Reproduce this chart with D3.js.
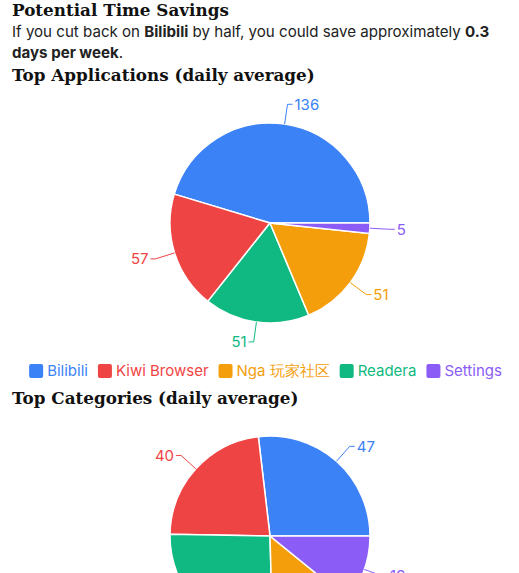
<!DOCTYPE html>
<html><head><meta charset="utf-8">
<script src="https://cdn.jsdelivr.net/npm/d3@7"></script>
<style>
body{margin:0;background:#fff;}
text{font-family:Inter,"Noto Sans",sans-serif;}
.ttl{font-family:"DejaVu Serif",serif;font-weight:bold;font-size:16.8px;fill:#111;}
</style></head>
<body><svg id="c" width="519" height="573"></svg>
<script>
const apps = ["Bilibili", "Kiwi Browser", "Nga 玩家社区", "Readera", "Settings"];
const appValues = [136, 57, 51, 51, 5];
const cats = ["Entertainment", "Browsing", "Reading", "Games", "Utilities"];
const catValues = [47, 40, 45, 24, 19];
// slice order in picture: blue, red, green, orange, purple (counterclockwise)
const appColors = ["#3b82f6", "#ef4444", "#f59e0b", "#10b981", "#8b5cf6"];
const sliceOrderApps = [0, 1, 3, 2, 4];
const catColors = ["#3b82f6", "#ef4444", "#10b981", "#f59e0b", "#8b5cf6"];

const svg = d3.select("#c");

svg.append("text").attr("class", "ttl").attr("x", 12).attr("y", 16).text("Potential Time Savings");
const p = svg.append("text").attr("x", 12).attr("y", 37).attr("font-size", 15.1).attr("fill", "#222");
p.append("tspan").text("If you cut back on ");
p.append("tspan").attr("font-weight", "bold").text("Bilibili");
p.append("tspan").text(" by half, you could save approximately ");
p.append("tspan").attr("font-weight", "bold").text("0.3");
svg.append("text").attr("x", 12).attr("y", 58).attr("font-size", 15.1).attr("fill", "#222")
  .call(t => { t.append("tspan").attr("font-weight", "bold").text("days per week"); t.append("tspan").text("."); });
svg.append("text").attr("class", "ttl").attr("x", 12).attr("y", 81).text("Top Applications (daily average)");
svg.append("text").attr("class", "ttl").attr("x", 12).attr("y", 404).text("Top Categories (daily average)");

function drawPie(cx, cy, r, names, values, cols) {
  const data = names.map((n, i) => ({ n, v: values[i], c: cols[i] }));
  const pie = d3.pie().value(d => d.v).sort(null)
    .startAngle(Math.PI / 2).endAngle(Math.PI / 2 - 2 * Math.PI);
  const arcs = pie(data);
  const arc = d3.arc().innerRadius(0).outerRadius(r);
  const g = svg.append("g").attr("transform", `translate(${cx},${cy})`);
  g.selectAll("path").data(arcs).join("path")
    .attr("d", arc).attr("fill", d => d.data.c)
    .attr("stroke", "#fff").attr("stroke-width", 1.5);
  arcs.forEach(a => {
    const m = (a.startAngle + a.endAngle) / 2;
    const sx = Math.sin(m), sy = -Math.cos(m);
    const p0 = [sx * r, sy * r], p1 = [sx * (r + 20), sy * (r + 20)];
    const dir = sx >= 0 ? 1 : -1;
    const p2 = [p1[0] + dir * 5, p1[1]];
    g.append("polyline").attr("points", [p0, p1, p2].map(q => q.join(",")).join(" "))
      .attr("fill", "none").attr("stroke", a.data.c).attr("stroke-width", 1);
    g.append("text").attr("x", p2[0] + dir * 2).attr("y", p2[1]).attr("dy", "0.35em")
      .attr("text-anchor", dir > 0 ? "start" : "end").attr("font-size", 15)
      .attr("fill", a.data.c).text(a.data.v);
  });
}

drawPie(270, 223, 100, sliceOrderApps.map(i => apps[i]), sliceOrderApps.map(i => appValues[i]), sliceOrderApps.map(i => appColors[i]));
drawPie(270, 536, 100, cats, catValues, catColors);

// legend
const lg = svg.append("g");
let x = 0;
apps.forEach((n, i) => {
  const it = lg.append("g").attr("transform", `translate(${x},0)`);
  it.append("rect").attr("x", 0).attr("y", -7).attr("width", 14).attr("height", 14).attr("rx", 2).attr("fill", appColors[i]);
  const t = it.append("text").attr("x", 18).attr("dy", "0.35em").attr("font-size", 15).attr("fill", appColors[i]).text(n);
  x += 18 + t.node().getComputedTextLength() + 10;
});
lg.attr("transform", `translate(${(519 - (x - 10)) / 2 + 6},371)`);
</script></body></html>
